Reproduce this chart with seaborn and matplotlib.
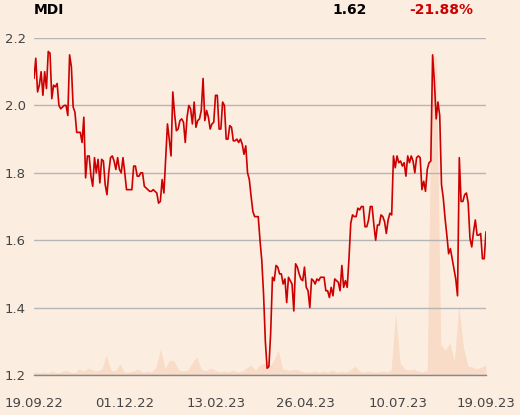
import pandas as pd
import matplotlib
matplotlib.use('Agg')
import matplotlib.pyplot as plt
import seaborn as sns

price = [
    2.08, 2.14, 2.04, 2.06, 2.10, 2.03, 2.10, 2.05, 2.16, 2.155, 2.02, 2.06, 2.055, 2.065,
    2.00, 1.99, 1.995, 2.00, 2.00, 1.97, 2.15, 2.115, 1.995, 1.98, 1.92, 1.92, 1.92, 1.89,
    1.965, 1.785, 1.85, 1.85, 1.79, 1.76, 1.845, 1.80, 1.84, 1.77, 1.84, 1.835, 1.765, 1.735,
    1.80,
    1.845, 1.85, 1.835, 1.81, 1.845, 1.81, 1.80, 1.845, 1.80, 1.75, 1.75, 1.75, 1.75, 1.82,
    1.82, 1.79, 1.79, 1.80, 1.80, 1.76, 1.755, 1.75, 1.745, 1.745, 1.75, 1.745, 1.74, 1.71,
    1.715, 1.78, 1.74, 1.84, 1.945, 1.90, 1.85, 2.04, 1.975, 1.925, 1.93, 1.955, 1.96, 1.95,
    1.89, 1.965, 2.00,
    1.99, 1.945, 2.01, 1.935, 1.955, 1.96, 1.985, 2.08, 1.955, 1.985, 1.965, 1.93, 1.945,
    1.95, 2.03, 2.03, 1.93, 1.93, 2.01, 2.00, 1.90, 1.90, 1.94, 1.935, 1.895, 1.895, 1.90,
    1.89, 1.90, 1.885, 1.855, 1.88, 1.80, 1.78, 1.73, 1.685, 1.67, 1.67, 1.67,
    1.60, 1.54, 1.44, 1.30, 1.22, 1.225, 1.325, 1.49, 1.48, 1.525, 1.52, 1.50, 1.50, 1.47,
    1.485, 1.415, 1.49, 1.48, 1.47, 1.39, 1.53, 1.52, 1.50, 1.485, 1.48, 1.52, 1.46, 1.45,
    1.40, 1.485, 1.48, 1.47, 1.485, 1.48, 1.49, 1.49, 1.49, 1.45, 1.45, 1.43, 1.46, 1.435,
    1.485, 1.48, 1.475, 1.45, 1.525, 1.46, 1.48, 1.46, 1.545,
    1.65, 1.675, 1.67, 1.67, 1.695, 1.69, 1.70, 1.70, 1.64, 1.64, 1.66, 1.70, 1.70, 1.645,
    1.60, 1.645, 1.645, 1.675, 1.67, 1.655, 1.62, 1.66, 1.68, 1.675, 1.85, 1.815, 1.85,
    1.83, 1.835, 1.82, 1.83, 1.79, 1.85, 1.83, 1.85, 1.835, 1.80, 1.845, 1.85, 1.845,
    1.75, 1.775, 1.745, 1.81, 1.83, 1.835, 2.15, 2.07, 1.96, 2.01, 1.97, 1.765, 1.725,
    1.665, 1.615, 1.56, 1.575, 1.545, 1.515, 1.485, 1.435, 1.845, 1.715, 1.715, 1.735,
    1.74, 1.71, 1.605, 1.58, 1.625, 1.66, 1.615, 1.615, 1.62, 1.545, 1.545, 1.625,
]

# Traded volume (millions), sampled across the same period
volume = [
    0.3, 0.2, 0.3, 0.2, 0.4, 0.2, 0.3, 0.5, 0.3, 0.2, 0.6, 0.4, 0.7, 0.5, 0.4, 0.6, 2.0,
    0.5, 0.4, 1.1, 0.3, 0.3, 0.4, 0.6, 0.3, 0.4, 0.3, 0.8, 2.6, 0.6, 1.5, 1.4, 0.5, 0.4,
    0.5, 1.2, 1.8, 0.6, 0.4, 0.7, 0.5, 0.3, 0.4, 0.3, 0.5, 0.3, 0.4, 0.7, 1.0, 0.5, 1.0,
    1.2, 0.8, 1.4, 2.5, 0.6, 0.5, 0.5, 0.6, 0.4, 0.3, 0.3, 0.4, 0.3, 0.4, 0.3, 0.5, 0.3,
    0.4, 0.3, 0.5, 0.9, 0.4, 0.3, 0.4, 0.3, 0.3, 0.4, 0.3, 0.5, 6.2, 1.2, 0.6, 0.5, 0.6,
    0.4, 0.3, 0.5, 32.0, 31.8, 3.0, 2.5, 3.2, 1.4, 7.0, 2.8, 0.9, 0.8, 0.6, 0.8, 1.0,
]

tick_dates = ['2022-09-19', '2022-12-01', '2023-02-13', '2023-04-26', '2023-07-10', '2023-09-19']
tick_labels = ['19.09.22', '01.12.22', '13.02.23', '26.04.23', '10.07.23', '19.09.23']

start, end = pd.Timestamp(tick_dates[0]), pd.Timestamp(tick_dates[-1])
df = pd.DataFrame({'date': pd.date_range(start, end, periods=len(price)), 'close': price})
vol = pd.DataFrame({'date': pd.date_range(start, end, periods=len(volume)), 'volume': volume})

bg = '#fcede1'
sns.set_style('white')
plt.rcParams['font.family'] = ['DejaVu Sans']

fig = plt.figure(figsize=(5.2, 4.15), dpi=100, facecolor=bg)
ax = fig.add_axes([0.0654, 0.0964, 0.8692, 0.812])
ax_vol = ax.twinx()

# volume area behind the price line
ax_vol.fill_between(vol['date'], vol['volume'], color='#f8dcc7', linewidth=0)
ax_vol.set_ylim(0, 33.7)
ax_vol.axis('off')
ax.set_zorder(ax_vol.get_zorder() + 1)
ax.patch.set_visible(False)
ax_vol.patch.set_facecolor(bg)
ax_vol.patch.set_visible(True)

sns.lineplot(data=df, x='date', y='close', ax=ax, color='#cc0000', linewidth=1.2)

ax.set_xlim(start, end)
ax.set_ylim(1.2, 2.2)
ax.set_yticks([1.2, 1.4, 1.6, 1.8, 2.0, 2.2])
ax.set_yticklabels(['1.2', '1.4', '1.6', '1.8', '2.0', '2.2'])
ax.set_xticks(pd.to_datetime(tick_dates))
ax.set_xticklabels(tick_labels)
ax.grid(axis='y', color='#b5b5b5', linewidth=1)
ax.set_axisbelow(True)
ax.set_xlabel('')
ax.set_ylabel('')

for side in ['top', 'right', 'left']:
    ax.spines[side].set_visible(False)
ax.spines['bottom'].set_color('#888888')
ax.spines['bottom'].set_linewidth(1)
ax.tick_params(axis='y', length=0, pad=6, labelsize=9.5, labelcolor='#444444')
ax.tick_params(axis='x', length=9.5, width=1, color='#888888', pad=6,
               labelsize=9.5, labelcolor='#444444')

fig.text(0.065, 0.976, 'MDI', fontsize=10, fontweight='bold', color='black', va='center')
fig.text(0.640, 0.976, '1.62', fontsize=10, fontweight='bold', color='black', va='center')
fig.text(0.787, 0.976, '-21.88%', fontsize=10, fontweight='bold', color='#cc0000', va='center')

fig.savefig('out.png', dpi=100, facecolor=bg)
